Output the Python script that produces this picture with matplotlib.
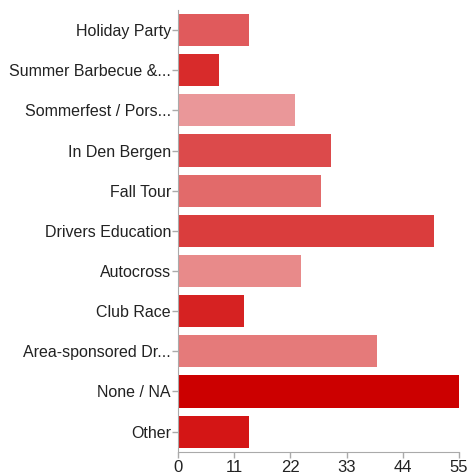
import matplotlib
matplotlib.use("Agg")
import matplotlib.pyplot as plt

plt.rcParams['font.family'] = ['Liberation Sans', 'DejaVu Sans']

categories = ["Holiday Party", "Summer Barbecue &...", "Sommerfest / Pors...",
              "In Den Bergen", "Fall Tour", "Drivers Education", "Autocross",
              "Club Race", "Area-sponsored Dr...", "None / NA", "Other"]
counts = [14, 8, 23, 30, 28, 50, 24, 13, 39, 55, 14]
colors = ["#E05A5C", "#D82B2B", "#EA9799", "#DC4A4B", "#E26A6A", "#DA3D3D",
          "#E88A8A", "#D62222", "#E57A7A", "#CC0000", "#D41515"]
xticks = [0, 11, 22, 33, 44, 55]

fig = plt.figure(figsize=(4.67, 4.75), dpi=100)
ax = fig.add_axes([0.381, 0.049, 0.602, 0.930])

ax.barh(range(len(categories)), counts, height=0.8, color=colors)
ax.set_yticks(range(len(categories)))
ax.set_yticklabels(categories, fontsize=11.5, color="#222222")
ax.set_ylim(10.5, -0.5)
ax.set_xlim(0, 55)
ax.set_xticks(xticks)
ax.set_xticklabels([str(t) for t in xticks], fontsize=12, color="#222222")

for s in ["top", "right"]:
    ax.spines[s].set_visible(False)
for s in ["left", "bottom"]:
    ax.spines[s].set_color("#aaaaaa")
ax.tick_params(axis="both", colors="#aaaaaa", length=4, width=1, labelcolor="#222222")
ax.tick_params(axis="y", pad=1)
ax.tick_params(axis="x", pad=2)

fig.savefig("out.png", dpi=100)
